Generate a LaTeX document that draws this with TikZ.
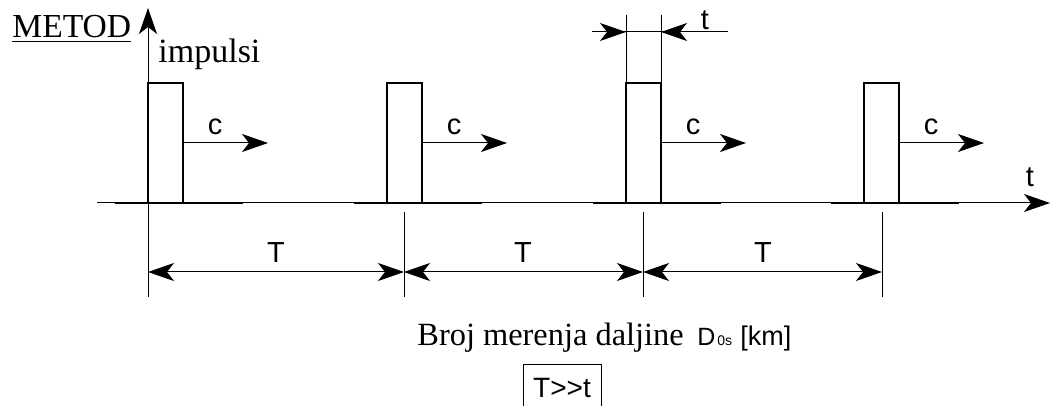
\documentclass[tikz,border=0pt]{standalone}
\usepackage{fontspec}
\setmainfont{Liberation Serif}
\setsansfont{Liberation Sans}
\usetikzlibrary{arrows.meta}

\begin{document}
\begin{tikzpicture}[x=0.5pt,y=-0.5pt,
    puls/.style={line width=0.9pt},
    tanka/.style={line width=0.5pt},
    strela/.style={-{Stealth[length=13pt,width=9pt,inset=3.5pt]}},
    dvostr/.style={{Stealth[length=13pt,width=9pt,inset=3.5pt]}-{Stealth[length=13pt,width=9pt,inset=3.5pt]}},
    oznaka/.style={font=\sffamily\fontsize{14.5}{16}\selectfont, anchor=base, inner sep=0pt}]
    % okvir slike
    \useasboundingbox (0,0) rectangle (1050,406);

    % ose
    \coordinate (X0) at (97,203);
    \coordinate (Xk) at (1050,203);
    \coordinate (Yd) at (148,297);
    \coordinate (Yg) at (148,8);
    \draw[tanka,strela] (X0) -- (Xk);
    \draw[tanka,strela] (Yd) -- (Yg);

    % impulsi (sirina 35, perioda 239)
    \coordinate (A1) at (148,203); \coordinate (B1) at (148,83);
    \coordinate (C1) at (183,83);  \coordinate (D1) at (183,203);
    \coordinate (A2) at (387,203); \coordinate (B2) at (387,83);
    \coordinate (C2) at (422,83);  \coordinate (D2) at (422,203);
    \coordinate (A3) at (626,203); \coordinate (B3) at (626,83);
    \coordinate (C3) at (661,83);  \coordinate (D3) at (661,203);
    \coordinate (A4) at (864,203); \coordinate (B4) at (864,83);
    \coordinate (C4) at (899,83);  \coordinate (D4) at (899,203);

    \draw[puls] (A1) -- (B1) -- (C1) -- (D1);
    \draw[puls] (A2) -- (B2) -- (C2) -- (D2);
    \draw[puls] (A3) -- (B3) -- (C3) -- (D3);
    \draw[puls] (A4) -- (B4) -- (C4) -- (D4);

    % deblji deo ose oko impulsa
    \draw[puls] (115,203) -- (243,203);
    \draw[puls] (354,203) -- (482,203);
    \draw[puls] (593,203) -- (721,203);
    \draw[puls] (831,203) -- (959,203);

    % brzina c
    \coordinate (E1) at (183,143); \coordinate (F1) at (268,143);
    \coordinate (E2) at (422,143); \coordinate (F2) at (507,143);
    \coordinate (E3) at (661,143); \coordinate (F3) at (746,143);
    \coordinate (E4) at (899,143); \coordinate (F4) at (984,143);
    \draw[tanka,strela] (E1) -- (F1);
    \draw[tanka,strela] (E2) -- (F2);
    \draw[tanka,strela] (E3) -- (F3);
    \draw[tanka,strela] (E4) -- (F4);
    \node[oznaka] (c1) at (215,135) {c};
    \node[oznaka] (c2) at (454,135) {c};
    \node[oznaka] (c3) at (693,135) {c};
    \node[oznaka] (c4) at (931,135) {c};

    % kota T
    \coordinate (P1) at (148,272);
    \coordinate (G2) at (404,212); \coordinate (P2) at (404,297);
    \coordinate (G3) at (643,212); \coordinate (P3) at (643,297);
    \coordinate (G4) at (882,212); \coordinate (P4) at (882,297);
    \draw[tanka] (G2) -- (P2);
    \draw[tanka] (G3) -- (P3);
    \draw[tanka] (G4) -- (P4);
    \draw[tanka,dvostr] (P1) -- (404,272);
    \draw[tanka,dvostr] (404,272) -- (643,272);
    \draw[tanka,dvostr] (643,272) -- (882,272);
    \node[oznaka] (T1) at (276,263) {T};
    \node[oznaka] (T2) at (523,263) {T};
    \node[oznaka] (T3) at (763,263) {T};

    % kota t
    \coordinate (H1) at (626,15);
    \coordinate (H2) at (661,15);
    \coordinate (K1) at (592,32); \coordinate (K2) at (626,32);
    \coordinate (K3) at (661,32); \coordinate (K4) at (728,32);
    \draw[tanka] (H1) -- (B3);
    \draw[tanka] (H2) -- (C3);
    \draw[tanka] (K1) -- (K4);
    \draw[tanka,strela] (K1) -- (K2);
    \draw[tanka,strela] (K4) -- (K3);
    \node[oznaka] (tdim) at (705,30) {t};
    \node[oznaka] (tosa) at (1030,187) {t};

    % tekst
    \node[anchor=base west,inner sep=0pt,font=\fontsize{16.8}{20}\selectfont] (metod) at (12,38) {\underline{METOD}};
    \node[anchor=base west,inner sep=0pt,font=\fontsize{17}{20}\selectfont] (impulsi) at (158,63) {impulsi};
    \node[anchor=base west,inner sep=0pt,font=\fontsize{16.2}{19}\selectfont] (broj) at (417,345) {Broj merenja daljine};
    \node[anchor=base west,inner sep=0pt,font=\sffamily\fontsize{12.5}{15}\selectfont] (dos) at (697,345) {D};
    \node[anchor=base west,inner sep=0pt,font=\sffamily\fontsize{7}{8}\selectfont] (indeks) at (717,346) {0s};
    \node[anchor=base west,inner sep=0pt,font=\sffamily\fontsize{13.5}{16}\selectfont] (km) at (740,345) {[km]};
    \node[anchor=base,inner sep=0pt,font=\sffamily\fontsize{14}{16}\selectfont] (odnos) at (562,397) {T>{}>t};
    \draw[tanka] (523,410) -- (523,365) -- (601,365) -- (601,410);
\end{tikzpicture}
\end{document}
